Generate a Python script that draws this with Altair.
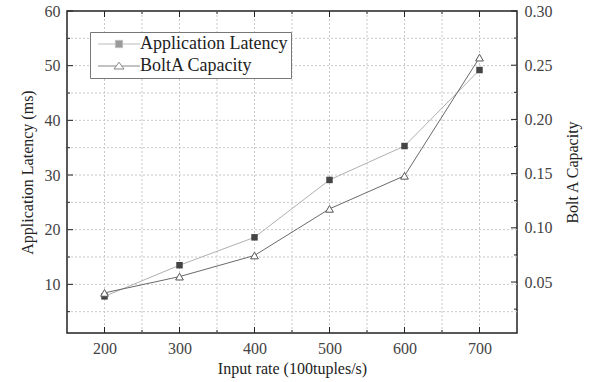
import altair as alt
import pandas as pd

# ---- data ----
input_rate = [200, 300, 400, 500, 600, 700]
latency_ms = [7.8, 13.5, 18.6, 29.1, 35.3, 49.2]
capacity = [0.040, 0.055, 0.0745, 0.1175, 0.148, 0.257]
series_names = ["Application Latency", "BoltA Capacity"]

x_major = [200, 300, 400, 500, 600, 700]
x_minor = [250, 350, 450, 550, 650]
x_grid = [200, 250, 300, 350, 400, 450, 500, 550, 600, 650, 700]
lat_major = [10, 20, 30, 40, 50, 60]
lat_minor = [5, 15, 25, 35, 45, 55]
lat_grid = [5, 10, 15, 20, 25, 30, 35, 40, 45, 50, 55]
cap_major = [0.05, 0.10, 0.15, 0.20, 0.25, 0.30]
cap_minor = [0.025, 0.075, 0.125, 0.175, 0.225, 0.275]

W, H = 450, 322
X_DOMAIN = [150, 750]
LAT_DOMAIN = [1.1, 60]
CAP_DOMAIN = [0.003, 0.30]
FONT = "Liberation Serif"
MAJ, MIN = 6, 3
GRID_COLOR = "#c8c8c8"

df = pd.DataFrame({"rate": input_rate, "latency": latency_ms, "capacity": capacity})

xscale = alt.Scale(domain=X_DOMAIN, nice=False, zero=False)
lscale = alt.Scale(domain=LAT_DOMAIN, nice=False, zero=False)
cscale = alt.Scale(domain=CAP_DOMAIN, nice=False, zero=False)

common = dict(
    grid=False, ticks=False, domain=False, labelPadding=7,
    labelFontSize=16, titleFontSize=16, labelFont=FONT, titleFont=FONT,
    labelColor="#444", titleColor="#222", titleFontWeight="normal",
    labelOverlap=False,
)
x_axis = alt.Axis(title="Input rate (100tuples/s)", values=x_major, titlePadding=4, **common)
l_axis = alt.Axis(title="Application Latency (ms)", values=lat_major, titlePadding=9,
                  orient="left", **common)
c_axis = alt.Axis(title="Bolt A Capacity", values=cap_major, format=".2f", titlePadding=12,
                  orient="right", titleAngle=270, titleBaseline="top", **common)

base = alt.Chart(df)

# grid lines (dotted) drawn through the scales
xgrid = alt.Chart(alt.Data(values=[{"v": v} for v in x_grid])).mark_rule(
    color=GRID_COLOR, strokeWidth=1, strokeDash=[2, 2]
).encode(x=alt.X("v:Q", scale=xscale, axis=x_axis), y=alt.value(0), y2=alt.value(H))
ygrid = alt.Chart(alt.Data(values=[{"v": v} for v in lat_grid])).mark_rule(
    color=GRID_COLOR, strokeWidth=1, strokeDash=[2, 2]
).encode(y=alt.Y("v:Q", scale=lscale, axis=l_axis), x=alt.value(0), x2=alt.value(W))

lat_line = base.mark_line(color="#b0b0b0", strokeWidth=1).encode(
    x=alt.X("rate:Q", scale=xscale, axis=x_axis),
    y=alt.Y("latency:Q", scale=lscale, axis=l_axis),
)
lat_pts = base.mark_point(shape="square", filled=True, color="#444", size=42, opacity=1).encode(
    x=alt.X("rate:Q", scale=xscale, axis=x_axis),
    y=alt.Y("latency:Q", scale=lscale, axis=l_axis),
)


def xticks(vals, length):
    d = alt.Data(values=[{"v": v} for v in vals])
    bot = alt.Chart(d).mark_rule(color="#222", strokeWidth=1).encode(
        x=alt.X("v:Q", scale=xscale, axis=x_axis), y=alt.value(H), y2=alt.value(H - length))
    top = alt.Chart(d).mark_rule(color="#222", strokeWidth=1).encode(
        x=alt.X("v:Q", scale=xscale, axis=x_axis), y=alt.value(0), y2=alt.value(length))
    return [bot, top]


def yticks(vals, length, scale, axis, right):
    d = alt.Data(values=[{"v": v} for v in vals])
    if right:
        xs = dict(x=alt.value(W), x2=alt.value(W - length))
    else:
        xs = dict(x=alt.value(0), x2=alt.value(length))
    return [alt.Chart(d).mark_rule(color="#222", strokeWidth=1).encode(
        y=alt.Y("v:Q", scale=scale, axis=axis), **xs)]


left = alt.layer(
    xgrid, ygrid, lat_line, lat_pts,
    *xticks(x_major, MAJ), *xticks(x_minor, MIN),
    *yticks(lat_major, MAJ, lscale, l_axis, False), *yticks(lat_minor, MIN, lscale, l_axis, False),
)

cap_line = base.mark_line(color="#6a6a6a", strokeWidth=1).encode(
    x=alt.X("rate:Q", scale=xscale, axis=x_axis),
    y=alt.Y("capacity:Q", scale=cscale, axis=c_axis),
)
cap_pts = base.mark_point(shape="triangle-up", fill="white", stroke="#555",
                          strokeWidth=1, size=60, opacity=1).encode(
    x=alt.X("rate:Q", scale=xscale, axis=x_axis),
    y=alt.Y("capacity:Q", scale=cscale, axis=c_axis),
)
right = alt.layer(
    cap_line, cap_pts,
    *yticks(cap_major, MAJ, cscale, c_axis, True), *yticks(cap_minor, MIN, cscale, c_axis, True),
)

lat_sym = "M-7,0H-1.2M1.2,0H7M-1.2,-1.2H1.2V1.2H-1.2Z"
cap_sym = "M-7,0H-0.93M0.93,0H7M0,-1.25L1.67,1H-1.67Z"

legend_layer = alt.Chart(alt.Data(values=[{"s": s} for s in series_names])).mark_point(
    filled=True, size=36, strokeWidth=1
).encode(
    x=alt.value(-1000), y=alt.value(-1000),
    shape=alt.Shape("s:N", scale=alt.Scale(domain=series_names, range=[lat_sym, cap_sym]),
                    legend=alt.Legend(title=None)),
    fill=alt.Fill("s:N", scale=alt.Scale(domain=series_names, range=["#333", "white"]),
                  legend=alt.Legend(title=None)),
    stroke=alt.Stroke("s:N", scale=alt.Scale(domain=series_names, range=["#a0a0a0", "#555"]),
                      legend=alt.Legend(title=None)),
)

chart = alt.layer(left, right, legend_layer).resolve_scale(y="independent").properties(
    width=W, height=H,
    autosize=alt.AutoSizeParams(type="none"),
    padding={"left": 67, "top": 11, "right": 84, "bottom": 49},
).configure_view(
    stroke="#222", strokeWidth=1.5
).configure_legend(
    orient="none", legendX=23, legendY=21, padding=3,
    strokeColor="#777", fillColor="white", cornerRadius=0,
    symbolSize=36, symbolStrokeWidth=1, symbolOffset=17, labelOffset=12,
    labelFont=FONT, labelFontSize=18, labelColor="#222", rowPadding=4,
    labelLimit=400,
)

chart.save("out.html", embed_options={"renderer": "svg", "actions": False})
